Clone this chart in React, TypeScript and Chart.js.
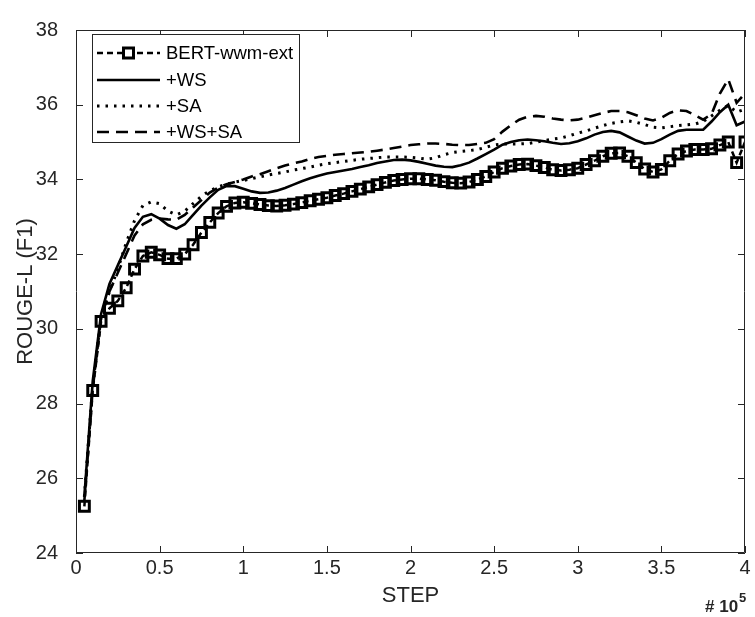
import React, { useEffect, useRef } from 'react';
import { Chart, registerables } from 'chart.js';

Chart.register(...registerables);

// ---------- data ----------
const steps = [
  0.05, 0.1, 0.15, 0.2, 0.25, 0.3, 0.35, 0.4, 0.45, 0.5,
  0.55, 0.6, 0.65, 0.7, 0.75, 0.8, 0.85, 0.9, 0.95, 1.0,
  1.05, 1.1, 1.15, 1.2, 1.25, 1.3, 1.35, 1.4, 1.45, 1.5,
  1.55, 1.6, 1.65, 1.7, 1.75, 1.8, 1.85, 1.9, 1.95, 2.0,
  2.05, 2.1, 2.15, 2.2, 2.25, 2.3, 2.35, 2.4, 2.45, 2.5,
  2.55, 2.6, 2.65, 2.7, 2.75, 2.8, 2.85, 2.9, 2.95, 3.0,
  3.05, 3.1, 3.15, 3.2, 3.25, 3.3, 3.35, 3.4, 3.45, 3.5,
  3.55, 3.6, 3.65, 3.7, 3.75, 3.8, 3.85, 3.9, 3.95, 4.0,
];

const bertWwmExt = [
  25.25, 28.35, 30.2, 30.55, 30.75, 31.1, 31.6, 31.95, 32.05, 31.98,
  31.88, 31.88, 32.0, 32.25, 32.58, 32.85, 33.1, 33.28, 33.37, 33.39,
  33.36, 33.33, 33.3, 33.29, 33.31, 33.34, 33.38, 33.43, 33.47, 33.51,
  33.57, 33.62, 33.68, 33.74, 33.8, 33.86, 33.92, 33.97, 34.0, 34.02,
  34.02, 34.0, 33.98, 33.94, 33.91, 33.9, 33.93, 34.0, 34.08, 34.2,
  34.3, 34.36, 34.4, 34.41, 34.37, 34.32, 34.26, 34.24, 34.26, 34.3,
  34.4, 34.5, 34.62, 34.7, 34.71, 34.62, 34.45, 34.28, 34.2, 34.27,
  34.5, 34.68, 34.76, 34.8, 34.8, 34.82, 34.92, 35.0, 34.45, 35.0,
];

const plusWS = [
  25.5, 28.6, 30.4, 31.2, 31.7, 32.2, 32.7, 33.0, 33.07, 32.95,
  32.78, 32.68, 32.8, 33.05, 33.3, 33.52, 33.72, 33.82, 33.82, 33.75,
  33.68, 33.64, 33.65, 33.7, 33.77, 33.86, 33.95, 34.03, 34.1, 34.16,
  34.2, 34.24, 34.28, 34.33, 34.38, 34.44, 34.48, 34.52, 34.53, 34.51,
  34.47, 34.42, 34.37, 34.34, 34.33, 34.38, 34.45, 34.56, 34.68, 34.8,
  34.93, 35.0, 35.05, 35.07, 35.05, 35.02, 34.98, 34.95, 34.97, 35.02,
  35.1, 35.2, 35.27, 35.3, 35.26, 35.15, 35.04, 34.96, 34.98, 35.08,
  35.2, 35.3, 35.33, 35.33, 35.33, 35.55, 35.8, 36.0, 35.45, 35.55,
];

const plusSA = [
  25.5, 28.5, 30.3, 31.0, 31.6, 32.3, 32.9, 33.3, 33.4, 33.35,
  33.15, 33.05, 33.15, 33.35, 33.55, 33.7, 33.8, 33.87, 33.93, 33.97,
  34.02, 34.07, 34.12, 34.16, 34.2, 34.25, 34.29, 34.33, 34.38, 34.42,
  34.45, 34.48, 34.51, 34.54, 34.56, 34.58, 34.6, 34.6, 34.6, 34.59,
  34.57, 34.54, 34.58, 34.66, 34.72, 34.75, 34.77, 34.8, 34.86, 34.92,
  34.95, 34.95, 34.95, 34.96, 35.0, 35.04, 35.08, 35.11, 35.17, 35.24,
  35.3, 35.37, 35.44, 35.5, 35.54, 35.57, 35.53, 35.47, 35.4, 35.38,
  35.41, 35.44, 35.46, 35.48, 35.55, 35.7, 35.85, 35.98, 35.8, 35.88,
];

const plusWSSA = [
  25.4, 28.4, 30.3, 31.0, 31.5, 32.0, 32.5, 32.8, 32.92, 32.95,
  32.93, 32.92, 33.05, 33.25, 33.45, 33.65, 33.78, 33.87, 33.93, 34.0,
  34.08, 34.14, 34.22, 34.3, 34.37, 34.43, 34.48, 34.55, 34.6, 34.63,
  34.66, 34.68, 34.7, 34.72, 34.74, 34.77, 34.8, 34.84, 34.88, 34.92,
  34.94, 34.96, 34.96, 34.95, 34.93, 34.92, 34.92, 34.95, 34.98, 35.08,
  35.28, 35.45, 35.6, 35.68, 35.7, 35.68, 35.63, 35.6, 35.58, 35.6,
  35.65, 35.72, 35.78, 35.83, 35.83, 35.8, 35.72, 35.63, 35.58, 35.65,
  35.78, 35.85, 35.83, 35.72, 35.6, 35.75, 36.3, 36.68, 36.05, 36.3,
];

const seriesLabels = ['BERT-wwm-ext', '+WS', '+SA', '+WS+SA'];
const xTicks = [0, 0.5, 1, 1.5, 2, 2.5, 3, 3.5, 4];
const yTicks = [24, 26, 28, 30, 32, 34, 36, 38];
const xTitle = 'STEP';
const yTitle = 'ROUGE-L (F1)';
const exponentBase = '# 10';
const exponentPower = '5';

const FONT = "'Liberation Sans', Arial, Helvetica, sans-serif";
const AXIS_COLOR = '#262626';

const toPoints = (ys: number[]) => ys.map((y, i) => ({ x: steps[i], y }));

const matlabPlugin = {
  id: 'matlabDecor',
  afterDraw(chart: any) {
    const { ctx, chartArea, scales } = chart;
    const { left, right, top, bottom } = chartArea;
    ctx.save();
    // box
    ctx.strokeStyle = AXIS_COLOR;
    ctx.lineWidth = 1;
    ctx.setLineDash([]);
    ctx.beginPath();
    ctx.moveTo(left + 0.5, bottom - 0.5);
    ctx.lineTo(left + 0.5, top + 0.5);
    ctx.lineTo(right - 0.5, top + 0.5);
    ctx.lineTo(right - 0.5, bottom - 0.5);
    ctx.lineTo(left + 0.5, bottom - 0.5);
    const tl = 7;
    xTicks.forEach((v) => {
      const px = Math.round(scales.x.getPixelForValue(v)) + 0.5;
      ctx.moveTo(px, bottom);
      ctx.lineTo(px, bottom - tl);
      ctx.moveTo(px, top);
      ctx.lineTo(px, top + tl);
    });
    yTicks.forEach((v) => {
      const py = Math.round(scales.y.getPixelForValue(v)) + 0.5;
      ctx.moveTo(left, py);
      ctx.lineTo(left + tl, py);
      ctx.moveTo(right, py);
      ctx.lineTo(right - tl, py);
    });
    ctx.stroke();

    // legend
    const lx0 = 92, lx1 = 300, ly0 = 34, ly1 = 143;
    ctx.fillStyle = '#ffffff';
    ctx.fillRect(lx0, ly0, lx1 - lx0, ly1 - ly0);
    ctx.strokeStyle = AXIS_COLOR;
    ctx.lineWidth = 1;
    ctx.strokeRect(lx0 + 0.5, ly0 + 0.5, lx1 - lx0 - 1, ly1 - ly0 - 1);
    const rows = [53, 80, 106, 132];
    chart.data.datasets.forEach((ds: any, i: number) => {
      const y = rows[i];
      ctx.strokeStyle = '#000';
      ctx.lineWidth = ds.borderWidth;
      ctx.setLineDash(ds.borderDash || []);
      ctx.beginPath();
      ctx.moveTo(97, y);
      ctx.lineTo(160, y);
      ctx.stroke();
      ctx.setLineDash([]);
      if (ds.pointRadius > 0) {
        const s = 10;
        ctx.fillStyle = '#fff';
        ctx.fillRect(128.5 - s / 2, y - s / 2, s, s);
        ctx.lineWidth = ds.pointBorderWidth;
        ctx.strokeRect(128.5 - s / 2, y - s / 2, s, s);
      }
      ctx.fillStyle = '#000';
      ctx.font = `18.5px ${FONT}`;
      ctx.textAlign = 'left';
      ctx.textBaseline = 'middle';
      ctx.fillText(ds.label, 166, y + 1);
    });

    // exponent label
    ctx.fillStyle = AXIS_COLOR;
    ctx.textAlign = 'left';
    ctx.textBaseline = 'alphabetic';
    ctx.font = `bold 17px ${FONT}`;
    ctx.fillText(exponentBase, 705, 612);
    const w = ctx.measureText(exponentBase).width;
    ctx.font = `bold 13px ${FONT}`;
    ctx.fillText(exponentPower, 705 + w + 1, 602);
    ctx.restore();
  },
};

export default function App() {
  const canvasRef = useRef<HTMLCanvasElement | null>(null);

  useEffect(() => {
    document.body.style.margin = '0';
    const canvas = canvasRef.current;
    if (!canvas) return;
    const chart = new Chart(canvas, {
      type: 'line',
      data: {
        datasets: [
          {
            label: seriesLabels[0],
            data: toPoints(bertWwmExt),
            borderColor: '#000',
            borderWidth: 2.5,
            borderDash: [6, 4],
            pointStyle: 'rect',
            pointRadius: 7,
            pointBorderWidth: 3,
            pointBorderColor: '#000',
            pointBackgroundColor: 'rgba(255,255,255,0)',
            tension: 0,
            fill: false,
          },
          {
            label: seriesLabels[1],
            data: toPoints(plusWS),
            borderColor: '#000',
            borderWidth: 2.6,
            pointRadius: 0,
            tension: 0,
            fill: false,
          },
          {
            label: seriesLabels[2],
            data: toPoints(plusSA),
            borderColor: '#000',
            borderWidth: 3,
            borderDash: [2.5, 6],
            pointRadius: 0,
            tension: 0,
            fill: false,
          },
          {
            label: seriesLabels[3],
            data: toPoints(plusWSSA),
            borderColor: '#000',
            borderWidth: 2.6,
            borderDash: [12, 7],
            pointRadius: 0,
            tension: 0,
            fill: false,
          },
        ],
      },
      options: {
        responsive: false,
        animation: false,
        devicePixelRatio: 1,
        layout: { padding: { top: 20, right: 3, left: 0, bottom: 0 } },
        plugins: {
          legend: { display: false },
          tooltip: { enabled: false },
        },
        scales: {
          x: {
            type: 'linear',
            min: 0,
            max: 4,
            afterFit: (s: any) => { s.height = 64; },
            afterBuildTicks: (s: any) => { s.ticks = xTicks.map((v) => ({ value: v })); },
            grid: { display: false, drawTicks: false, tickLength: 0 },
            border: { display: false },
            ticks: {
              autoSkip: false,
              maxRotation: 0,
              padding: 3,
              color: AXIS_COLOR,
              font: { family: FONT, size: 20 },
              callback: (v: any) => String(v),
            },
            title: {
              display: true,
              text: xTitle,
              color: AXIS_COLOR,
              font: { family: FONT, size: 22, lineHeight: 1.2 },
              padding: { top: 0, bottom: 8 },
            },
          },
          y: {
            type: 'linear',
            min: 24,
            max: 38,
            afterFit: (s: any) => { s.width = 76; },
            afterBuildTicks: (s: any) => { s.ticks = yTicks.map((v) => ({ value: v })); },
            grid: { display: false, drawTicks: false, tickLength: 0 },
            border: { display: false },
            ticks: {
              autoSkip: false,
              padding: 18,
              color: AXIS_COLOR,
              font: { family: FONT, size: 20 },
              callback: (v: any) => String(v),
            },
            title: {
              display: true,
              text: yTitle,
              color: AXIS_COLOR,
              font: { family: FONT, size: 22, lineHeight: 1.2 },
              padding: { top: 13, bottom: 0 },
            },
          },
        },
      },
      plugins: [matlabPlugin],
    } as any);
    return () => chart.destroy();
  }, []);

  return (
    <div style={{ width: 755, height: 617, background: '#fff' }}>
      <canvas ref={canvasRef} width={755} height={617} style={{ display: 'block' }} />
    </div>
  );
}
